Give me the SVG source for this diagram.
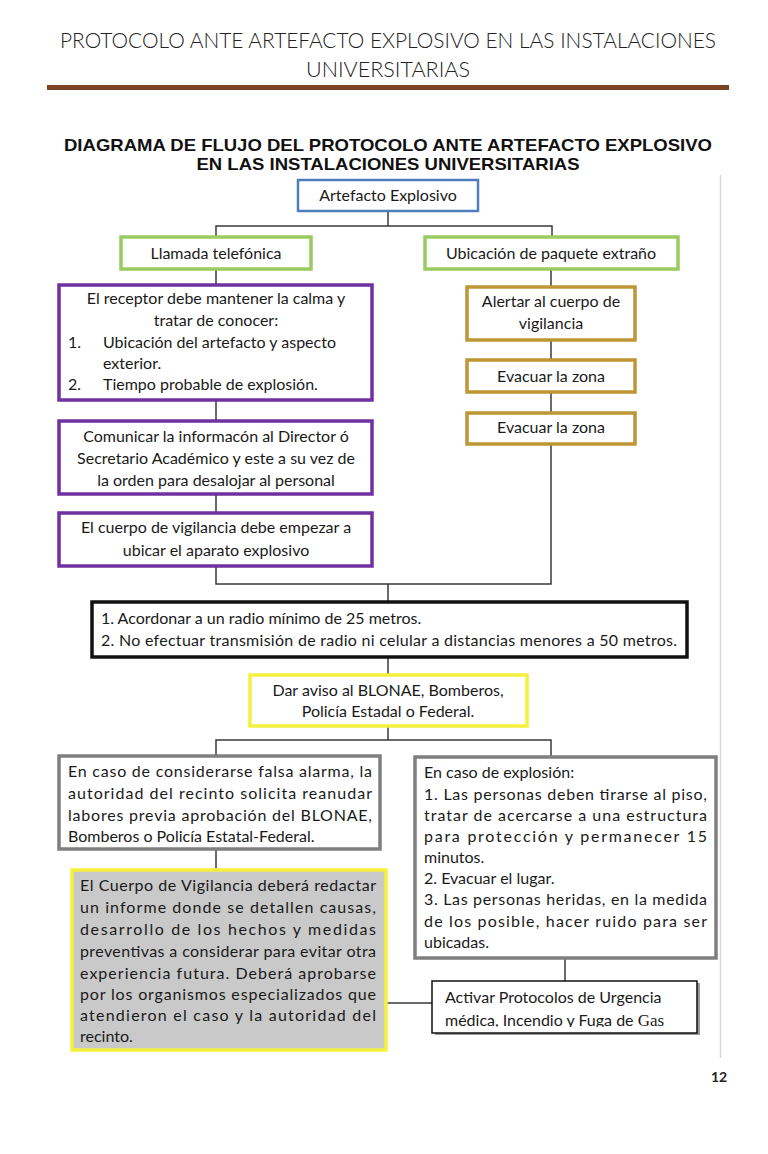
<svg xmlns="http://www.w3.org/2000/svg" width="768" height="1154" viewBox="0 0 768 1154">
<style>
.hdr{font-family:"Lato","Open Sans",sans-serif;font-weight:300;font-size:22px;fill:#222}
.ttl{font-family:"Liberation Sans",Arial,sans-serif;font-weight:bold;font-size:17px;fill:#111}
.t{font-family:"Lato","Open Sans",sans-serif;font-size:16px;fill:#1a1a1a}
.c{text-anchor:middle}
.box{fill:#fff}
.blue{stroke:#4F7EBB;stroke-width:2.5}
.green{stroke:#9BCB5E;stroke-width:3.5}
.purple{stroke:#7030A0;stroke-width:3.5}
.gold{stroke:#BF9535;stroke-width:3.5}
.black{stroke:#111;stroke-width:3.5}
.yellow{stroke:#F5F03C;stroke-width:3.5}
.gray{stroke:#7F7F7F;stroke-width:3.5}
.conn{fill:none;stroke:#3a3a3a;stroke-width:1.5}
</style>
<defs>
<clipPath id="clipAct"><rect x="432" y="981" width="265" height="46"/></clipPath>
</defs>
<rect width="768" height="1154" fill="#fff"/>
<g id="header">
<text class="hdr c" x="388" y="48" textLength="656" lengthAdjust="spacingAndGlyphs">PROTOCOLO ANTE ARTEFACTO EXPLOSIVO EN LAS INSTALACIONES</text>
<text class="hdr c" x="388" y="77" textLength="164" lengthAdjust="spacingAndGlyphs">UNIVERSITARIAS</text>
<rect x="47" y="85" width="682" height="5" fill="#7B4524"/>
<text class="ttl c" x="388" y="151" textLength="648" lengthAdjust="spacingAndGlyphs">DIAGRAMA DE FLUJO DEL PROTOCOLO ANTE ARTEFACTO EXPLOSIVO</text>
<text class="ttl c" x="388" y="170" textLength="383" lengthAdjust="spacingAndGlyphs">EN LAS INSTALACIONES UNIVERSITARIAS</text>
<line x1="720.5" y1="175" x2="720.5" y2="1058" stroke="#d8d8d8" stroke-width="1.5"/>
<text x="719" y="1082" text-anchor="middle" font-family="Lato,'Open Sans',sans-serif" font-weight="bold" font-size="14" fill="#222">12</text>
</g>
<g id="connectors" class="conn">
<path d="M388 211V226M216 236V226H552V236"/>
<path d="M216 269V285M216 400V421M216 494V513"/>
<path d="M551 269V287M551 340V360M551 392V413"/>
<path d="M216 566V584H551V444M388 584V602"/>
<path d="M388 657V675M388 726V740M216 756V740H551V757"/>
<path d="M216 849V870M565 958V981M386 1003H432"/>
</g>
<g id="n-artefacto">
<rect class="box blue" x="298" y="180" width="180" height="31"/>
<text class="t c" x="388" y="201">Artefacto Explosivo</text>
</g>
<g id="n-llamada">
<rect class="box green" x="121" y="237" width="190" height="32"/>
<text class="t c" x="216" y="259">Llamada telefónica</text>
</g>
<g id="n-ubicacion">
<rect class="box green" x="425" y="237" width="253" height="32"/>
<text class="t c" x="551" y="259">Ubicación de paquete extraño</text>
</g>
<g id="n-receptor">
<rect class="box purple" x="59" y="285" width="313" height="115"/>
<text class="t c" x="216" y="304">El receptor debe mantener la calma y</text>
<text class="t c" x="216" y="326">tratar de conocer:</text>
<text class="t" x="68" y="348">1.</text>
<text class="t" x="103" y="348">Ubicación del artefacto y aspecto</text>
<text class="t" x="103" y="369">exterior.</text>
<text class="t" x="68" y="390">2.</text>
<text class="t" x="103" y="390">Tiempo probable de explosión.</text>
</g>
<g id="n-comunicar">
<rect class="box purple" x="59" y="421" width="313" height="73"/>
<text class="t c" x="216" y="442">Comunicar la informacón al Director ó</text>
<text class="t c" x="216" y="464">Secretario Académico y este a su vez de</text>
<text class="t c" x="216" y="486">la orden para desalojar al personal</text>
</g>
<g id="n-cuerpo">
<rect class="box purple" x="59" y="513" width="313" height="53"/>
<text class="t c" x="216" y="533">El cuerpo de vigilancia debe empezar a</text>
<text class="t c" x="216" y="556">ubicar el aparato explosivo</text>
</g>
<g id="n-alertar">
<rect class="box gold" x="467" y="287" width="168" height="53"/>
<text class="t c" x="551" y="307">Alertar al cuerpo de</text>
<text class="t c" x="551" y="329">vigilancia</text>
</g>
<g id="n-evacuar1">
<rect class="box gold" x="467" y="360" width="168" height="32"/>
<text class="t c" x="551" y="382">Evacuar la zona</text>
</g>
<g id="n-evacuar2">
<rect class="box gold" x="467" y="413" width="168" height="31"/>
<text class="t c" x="551" y="433">Evacuar la zona</text>
</g>
<g id="n-acordonar">
<rect class="box black" x="92" y="602" width="595" height="55"/>
<text class="t" x="101" y="624">1. Acordonar a un radio mínimo de 25 metros.</text>
<text class="t" x="101" y="646" textLength="576" lengthAdjust="spacing">2. No efectuar transmisión de radio ni celular a distancias menores a 50 metros.</text>
</g>
<g id="n-aviso">
<rect class="box yellow" x="250" y="675" width="277" height="51"/>
<text class="t c" x="388" y="696">Dar aviso al BLONAE, Bomberos,</text>
<text class="t c" x="388" y="717">Policía Estadal o Federal.</text>
</g>
<g id="n-falsa">
<rect class="box gray" x="59" y="756" width="321" height="93"/>
<text class="t" x="68" y="777" textLength="304" lengthAdjust="spacing">En caso de considerarse falsa alarma, la</text>
<text class="t" x="68" y="799" textLength="304" lengthAdjust="spacing">autoridad del recinto solicita reanudar</text>
<text class="t" x="68" y="821" textLength="304" lengthAdjust="spacing">labores previa aprobación del BLONAE,</text>
<text class="t" x="68" y="842">Bomberos o Policía Estatal-Federal.</text>
</g>
<g id="n-informe">
<rect x="72" y="870" width="314" height="180" fill="#C9C9C9" stroke="#F5F03C" stroke-width="3.5"/>
<text class="t" x="80" y="891" textLength="296" lengthAdjust="spacing">El Cuerpo de Vigilancia deberá redactar</text>
<text class="t" x="80" y="913" textLength="296" lengthAdjust="spacing">un informe donde se detallen causas,</text>
<text class="t" x="80" y="935" textLength="296" lengthAdjust="spacing">desarrollo de los hechos y medidas</text>
<text class="t" x="80" y="957" textLength="296" lengthAdjust="spacing">preventivas a considerar para evitar otra</text>
<text class="t" x="80" y="979" textLength="296" lengthAdjust="spacing">experiencia futura. Deberá aprobarse</text>
<text class="t" x="80" y="1000" textLength="296" lengthAdjust="spacing">por los organismos especializados que</text>
<text class="t" x="80" y="1021" textLength="296" lengthAdjust="spacing">atendieron el caso y la autoridad del</text>
<text class="t" x="80" y="1042">recinto.</text>
</g>
<g id="n-explosion">
<rect class="box gray" x="415" y="757" width="301" height="201"/>
<text class="t" x="424" y="778">En caso de explosión:</text>
<text class="t" x="424" y="800" textLength="283" lengthAdjust="spacing">1. Las personas deben tirarse al piso,</text>
<text class="t" x="424" y="821" textLength="283" lengthAdjust="spacing">tratar de acercarse a una estructura</text>
<text class="t" x="424" y="842" textLength="283" lengthAdjust="spacing">para protección y permanecer  15</text>
<text class="t" x="424" y="863">minutos.</text>
<text class="t" x="424" y="884">2. Evacuar el lugar.</text>
<text class="t" x="424" y="905" textLength="283" lengthAdjust="spacing">3. Las personas heridas, en la medida</text>
<text class="t" x="424" y="927" textLength="283" lengthAdjust="spacing">de los posible, hacer ruido para ser</text>
<text class="t" x="424" y="948">ubicadas.</text>
</g>
<g id="n-activar">
<rect x="435" y="983" width="265" height="52" fill="#9a9a9a"/>
<rect x="432" y="981" width="265" height="52" fill="#fff" stroke="#111" stroke-width="1.5"/>
<g clip-path="url(#clipAct)">
<text class="t" x="445" y="1003">Activar Protocolos de Urgencia</text>
<text class="t" x="445" y="1026">médica, Incendio y Fuga de <tspan font-family="'Liberation Serif',serif" font-size="17">Gas</tspan></text>
</g>
</g>
</svg>
